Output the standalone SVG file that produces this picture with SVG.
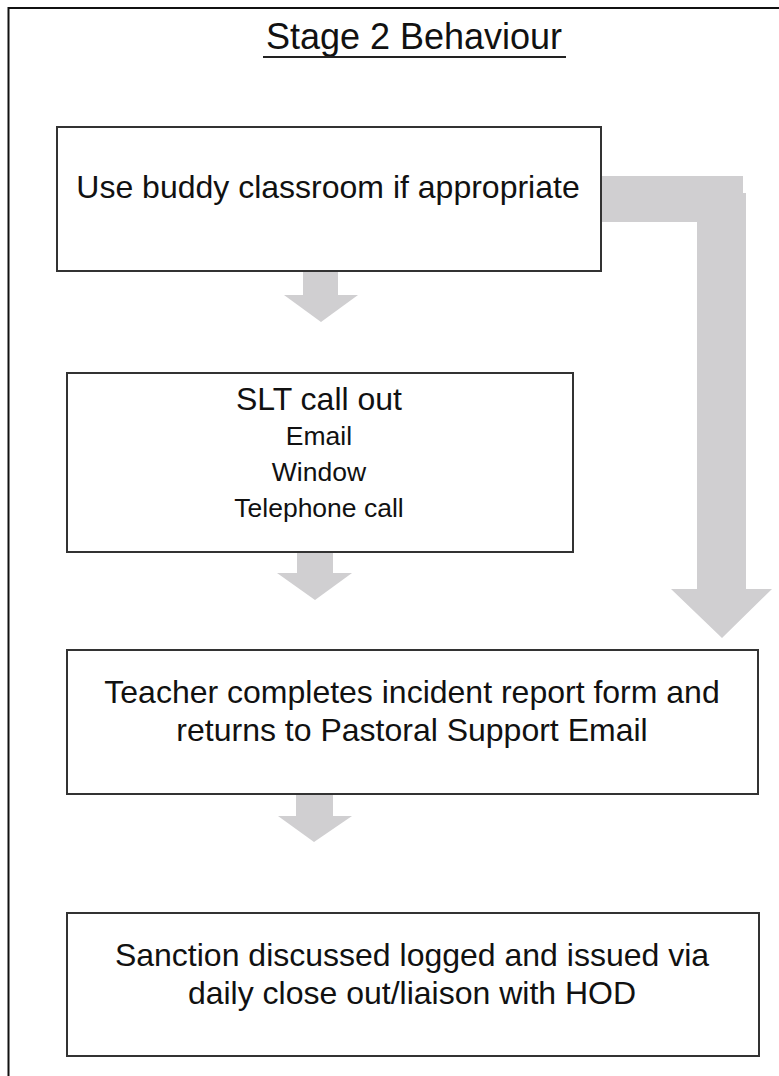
<svg xmlns="http://www.w3.org/2000/svg" width="779" height="1076" viewBox="0 0 779 1076">
<style>
.box{fill:#fff;stroke:#333;stroke-width:2}
.arr{fill:#d0cfd1;stroke:none}
.t{font-family:"Liberation Sans",Arial,sans-serif;fill:#111;text-anchor:middle}
.big{font-size:32px}
.small{font-size:26.5px}
</style>
<rect width="779" height="1076" fill="#fff"/>
<g id="frame">
<path d="M8.5,1076 V8 H779" fill="none" stroke="#111" stroke-width="2"/>
</g>
<g id="title">
<text class="t" x="414" y="49" font-size="36">Stage 2 Behaviour</text>
<line x1="263" y1="57" x2="566" y2="57" stroke="#222" stroke-width="2"/>
</g>
<g id="connectors">
<path class="arr" d="M303,271 H338 V295 H358 L321,322 L284,295 H303 Z"/>
<path class="arr" d="M297,552 H333 V573 H352 L315,600 L277,573 H297 Z"/>
<path class="arr" d="M296,794 H333 V816 H352 L314,842 L278,816 H296 Z"/>
<rect class="arr" x="601" y="176" width="142" height="46"/>
<path class="arr" d="M697,193 H746 V589 H772 L722,638 L671,589 H697 Z"/>
</g>
<g id="node1">
<rect class="box" x="57" y="127" width="544" height="144"/>
<text class="t big" x="328" y="198">Use buddy classroom if appropriate</text>
</g>
<g id="node2">
<rect class="box" x="67" y="373" width="506" height="179"/>
<text class="t big" x="319" y="410">SLT call out</text>
<text class="t small" x="319" y="445">Email</text>
<text class="t small" x="319" y="481">Window</text>
<text class="t small" x="319" y="517">Telephone call</text>
</g>
<g id="node3">
<rect class="box" x="67" y="650" width="691" height="144"/>
<text class="t big" x="412" y="703">Teacher completes incident report form and</text>
<text class="t big" x="412" y="741">returns to Pastoral Support Email</text>
</g>
<g id="node4">
<rect class="box" x="67" y="913" width="692" height="143"/>
<text class="t big" x="412" y="966">Sanction discussed logged and issued via</text>
<text class="t big" x="412" y="1004">daily close out/liaison with HOD</text>
</g>
</svg>
